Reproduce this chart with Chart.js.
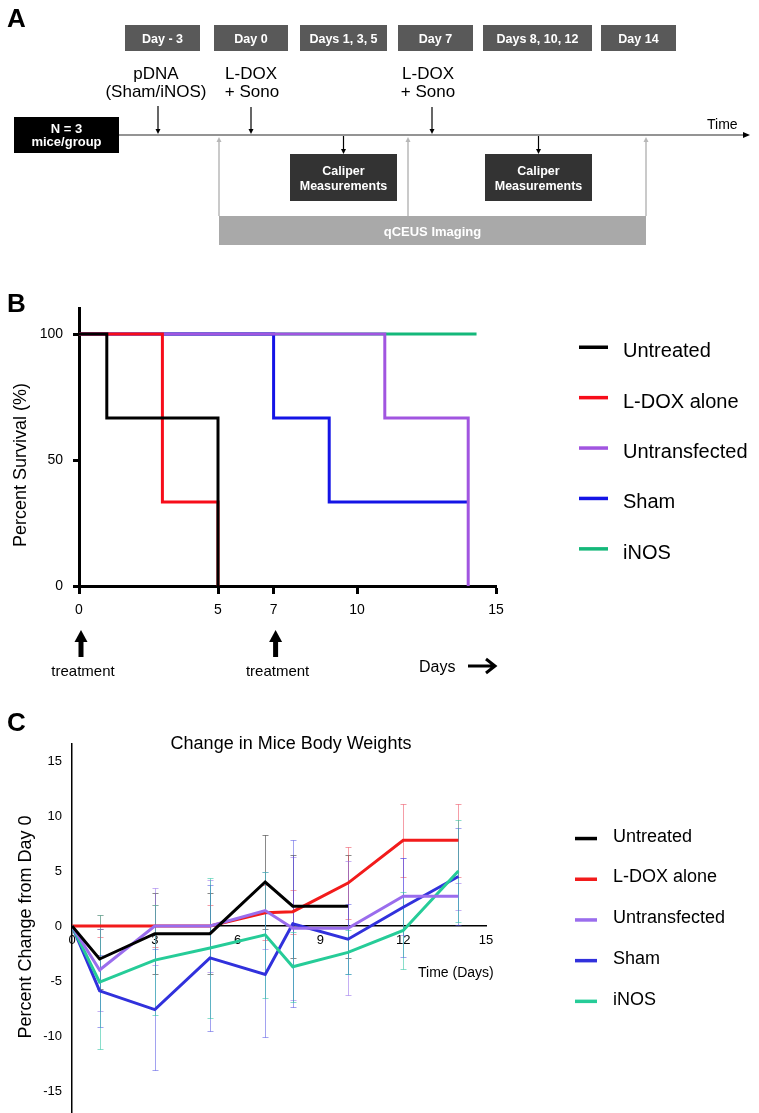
<!DOCTYPE html>
<html>
<head>
<meta charset="utf-8">
<script src="https://cdn.jsdelivr.net/npm/chart.js@4.4.0/dist/chart.umd.min.js"></script>
<style>
  html, body { margin: 0; padding: 0; background: #fff; }
  body { width: 759px; height: 1113px; position: relative; overflow: hidden; font-family: Arial, "Liberation Sans", sans-serif; }
  canvas { position: absolute; }
  #chartB { left: 0; top: 290px; }
  #chartC { left: 0; top: 690px; }
  #overlay { position: absolute; left: 0; top: 0; pointer-events: none; }
</style>
</head>
<body>
<canvas id="chartB" width="520" height="400"></canvas>
<canvas id="chartC" width="540" height="423"></canvas>
<svg id="overlay" width="759" height="1113" xmlns="http://www.w3.org/2000/svg"></svg>
<script>
// groups, same in B and C
const groups = ['Untreated', 'L-DOX alone', 'Untransfected', 'Sham', 'iNOS'];

// B - survival (days, percent)
const survDaysUntreated = [0, 1, 5];
const survPctUntreated = [100, 66.7, 0];
const survDaysLdox = [0, 3, 5];
const survPctLdox = [100, 33.3, 0];
const survDaysUntransf = [0, 11, 14];
const survPctUntransf = [100, 66.7, 0];
const survDaysSham = [0, 7, 9, 14];
const survPctSham = [100, 66.7, 33.3, 33.3];
const survDaysInos = [0.1, 14.3];
const survPctInos = [100, 100];
const survXTicks = [0, 5, 7, 10, 15];
const survYTicks = [0, 50, 100];
const treatmentDays = [0, 7];

// C - body weight change (%), mean and error
const weightDays = [0, 1, 3, 5, 7, 8, 10, 12, 14];
const wUntreated = [0, -3.0, -0.7, -0.7, 4.0, 1.8, 1.8];
const eUntreated = [0, 2.7, 3.7, 3.7, 4.3, 4.7, 4.7];
const wLdox = [0, 0, 0, 0, 1.2, 1.3, 3.9, 7.8, 7.8];
const eLdox = [0, 1.0, 1.9, 1.9, 2.5, 2.0, 3.3, 3.3, 3.3];
const wUntransf = [0, -4.0, 0, 0, 1.4, -0.2, -0.2, 2.7, 2.7];
const eUntransf = [0, 3.7, 3.5, 4.2, 3.5, 6.5, 6.1, 3.5, 1.2];
const wSham = [0, -5.9, -7.6, -2.9, -4.4, 0.2, -1.2, 1.7, 4.5];
const eSham = [0, 3.3, 5.5, 6.6, 5.7, 7.6, 3.2, 4.5, 4.4];
const wInos = [0, -5.1, -3.1, -2.0, -0.8, -3.7, -2.4, -0.4, 5.0];
const eInos = [0, 6.1, 5.0, 6.4, 5.7, 3.2, 2.0, 3.5, 4.6];
const weightXTicks = [0, 3, 6, 9, 12, 15];
const weightYTicks = [-15, -10, -5, 0, 5, 10, 15];

const survColors = ['#000000', '#f70d1a', '#a155e0', '#1414e6', '#14b87a'];
const weightColors = ['#000000', '#f21b1b', '#9a6ded', '#3131dc', '#26cc98'];
const errColors = ['rgba(40,40,40,0.55)', 'rgba(235,60,80,0.5)', 'rgba(150,110,235,0.55)', 'rgba(70,70,225,0.5)', 'rgba(40,195,160,0.55)'];

const FONT = 'Arial, "Liberation Sans", sans-serif';
Chart.defaults.font.family = FONT;
Chart.defaults.color = '#000';

// arrows + "treatment" under panel B
const treatmentArrows = {
  id: 'treatmentArrows',
  afterDraw(chart) {
    const { ctx, scales: { x }, chartArea } = chart;
    ctx.save();
    ctx.fillStyle = '#000';
    ctx.strokeStyle = '#000';
    ctx.font = '15px ' + FONT;
    ctx.textAlign = 'center';
    treatmentDays.forEach(d => {
      const px = x.getPixelForValue(d) + 2;
      ctx.beginPath();
      ctx.moveTo(px, 340);
      ctx.lineTo(px + 6.5, 352);
      ctx.lineTo(px - 6.5, 352);
      ctx.closePath();
      ctx.fill();
      ctx.fillRect(px - 2.5, 351, 5, 16);
      ctx.fillText('treatment', px + 2, 386);
    });
    ctx.font = '16px ' + FONT;
    ctx.textAlign = 'left';
    ctx.fillText('Days', chartArea.right - 77, 382);
    const ay = 376, ax1 = chartArea.right - 28, ax2 = chartArea.right - 1;
    ctx.lineWidth = 3;
    ctx.beginPath();
    ctx.moveTo(ax1, ay); ctx.lineTo(ax2, ay);
    ctx.moveTo(ax2 - 9, ay - 7); ctx.lineTo(ax2, ay); ctx.lineTo(ax2 - 9, ay + 7);
    ctx.stroke();
    ctx.restore();
  }
};

const errorBars = {
  id: 'errorBars',
  beforeDatasetsDraw(chart) {
    const { ctx, scales: { x, y } } = chart;
    ctx.save();
    ctx.lineWidth = 1;
    chart.data.datasets.forEach(ds => {
      ctx.strokeStyle = ds.errorColor;
      ds.data.forEach((p, j) => {
        const e = ds.errors[j];
        if (!e) return;
        const px = Math.round(x.getPixelForValue(p.x)) + 0.5;
        const top = Math.round(y.getPixelForValue(p.y + e)) + 0.5;
        const bot = Math.round(y.getPixelForValue(p.y - e)) + 0.5;
        ctx.beginPath();
        ctx.moveTo(px, top); ctx.lineTo(px, bot);
        ctx.moveTo(px - 3, top); ctx.lineTo(px + 3, top);
        ctx.moveTo(px - 3, bot); ctx.lineTo(px + 3, bot);
        ctx.stroke();
      });
    });
    ctx.restore();
  }
};

const survDays = [survDaysUntreated, survDaysLdox, survDaysUntransf, survDaysSham, survDaysInos];
const survPct = [survPctUntreated, survPctLdox, survPctUntransf, survPctSham, survPctInos];

new Chart(document.getElementById('chartB'), {
  type: 'line',
  data: {
    datasets: groups.map((g, i) => ({
      label: g,
      data: survDays[i].map((d, j) => ({ x: d, y: survPct[i][j] })),
      borderColor: survColors[i],
      borderWidth: 3,
      stepped: 'before',
      pointRadius: 0,
      fill: false
    }))
  },
  options: {
    responsive: false,
    animation: false,
    layout: { padding: { top: 18.8, right: 24, left: 0, bottom: 0 } },
    plugins: { legend: { display: false }, tooltip: { enabled: false } },
    scales: {
      x: {
        type: 'linear', min: 0, max: 15,
        afterBuildTicks: s => { s.ticks = survXTicks.map(v => ({ value: v })); },
        afterFit: s => { s.height = 104; s.paddingLeft = 0; s.paddingRight = 0; },
        border: { color: '#000', width: 3 },
        grid: { drawOnChartArea: false, color: '#000', tickColor: '#000', tickLength: 8, tickWidth: 3 },
        ticks: { color: '#000', font: { size: 14 }, padding: 8, maxRotation: 0, autoSkip: false }
      },
      y: {
        min: 0, max: 110,
        afterBuildTicks: s => { s.ticks = survYTicks.map(v => ({ value: v })); },
        afterFit: s => { s.width = 79; s.paddingTop = 0; s.paddingBottom = 0; },
        border: { color: '#000', width: 3 },
        grid: { drawOnChartArea: false, color: '#000', tickColor: '#000', tickLength: 6, tickWidth: 3 },
        ticks: { color: '#000', font: { size: 14 }, padding: 10 }
      }
    }
  },
  plugins: [treatmentArrows]
});

const wMeans = [wUntreated, wLdox, wUntransf, wSham, wInos];
const wErrs = [eUntreated, eLdox, eUntransf, eSham, eInos];
const drawOrder = [0, 3, 1, 4, 2];

new Chart(document.getElementById('chartC'), {
  type: 'line',
  data: {
    datasets: groups.map((g, i) => ({
      label: g,
      data: wMeans[i].map((v, j) => ({ x: weightDays[j], y: v })),
      errors: wErrs[i],
      errorColor: errColors[i],
      borderColor: weightColors[i],
      borderWidth: 3,
      tension: 0,
      pointRadius: 0,
      fill: false,
      order: drawOrder[i]
    }))
  },
  options: {
    responsive: false,
    animation: false,
    layout: { padding: { top: 53.4, right: 54, left: 0, bottom: 0 } },
    plugins: { legend: { display: false }, tooltip: { enabled: false } },
    scales: {
      x: {
        type: 'linear', min: 0, max: 15, position: { y: 0 },
        afterBuildTicks: s => { s.ticks = weightXTicks.map(v => ({ value: v })); },
        afterFit: s => { s.paddingLeft = 0; s.paddingRight = 0; },
        border: { color: '#000', width: 1.5 },
        grid: { display: false, drawTicks: false },
        ticks: { color: '#000', font: { size: 13 }, padding: 7, maxRotation: 0, autoSkip: false }
      },
      y: {
        min: -17, max: 16.6,
        afterBuildTicks: s => { s.ticks = weightYTicks.map(v => ({ value: v })); },
        afterFit: s => { s.width = 72; s.paddingTop = 0; s.paddingBottom = 0; },
        border: { color: '#000', width: 1.5 },
        grid: { display: false, drawTicks: false },
        ticks: { color: '#000', font: { size: 13 }, padding: 10 }
      }
    }
  },
  plugins: [errorBars]
});

// ---- overlay: panel A diagram, titles, legends ----
const NS = 'http://www.w3.org/2000/svg';
const svg = document.getElementById('overlay');
function add(tag, attrs, text) {
  const el = document.createElementNS(NS, tag);
  for (const k in attrs) el.setAttribute(k, attrs[k]);
  if (text != null) el.textContent = text;
  svg.appendChild(el);
  return el;
}
function text(x, y, s, size, opts = {}) {
  return add('text', Object.assign({ x: x, y: y, 'font-size': size, 'font-family': FONT, fill: '#000' }, opts), s);
}
function downArrow(x, y1, y2, color) {
  add('line', { x1: x, y1: y1, x2: x, y2: y2 - 4, stroke: color, 'stroke-width': 1.2 });
  add('polygon', { points: `${x - 2.5},${y2 - 5} ${x + 2.5},${y2 - 5} ${x},${y2}`, fill: color });
}
function upArrow(x, y1, y2, color) {
  add('line', { x1: x, y1: y1, x2: x, y2: y2 + 4, stroke: color, 'stroke-width': 1.5 });
  add('polygon', { points: `${x - 2.5},${y2 + 5} ${x + 2.5},${y2 + 5} ${x},${y2}`, fill: color });
}

// panel letters
text(7, 26.7, 'A', 26, { 'font-weight': 'bold' });
text(7, 312, 'B', 26, { 'font-weight': 'bold' });
text(7, 731, 'C', 26, { 'font-weight': 'bold' });

// A: header boxes
const stepLabels = ['Day - 3', 'Day 0', 'Days 1, 3, 5', 'Day 7', 'Days 8, 10, 12', 'Day 14'];
const stepBoxes = [[125, 75], [214, 74], [300, 87], [398, 75], [483, 109], [601, 75]];
stepLabels.forEach((s, i) => {
  const [x, w] = stepBoxes[i];
  add('rect', { x: x, y: 25, width: w, height: 26, fill: '#595959' });
  text(x + w / 2, 42.5, s, 12.5, { 'font-weight': 'bold', fill: '#fff', 'text-anchor': 'middle' });
});

// A: treatment notes
text(156, 79, 'pDNA', 17, { 'text-anchor': 'middle' });
text(156, 97, '(Sham/iNOS)', 17, { 'text-anchor': 'middle' });
text(251, 79, 'L-DOX', 17, { 'text-anchor': 'middle' });
text(252, 97, '+ Sono', 17, { 'text-anchor': 'middle' });
text(428, 79, 'L-DOX', 17, { 'text-anchor': 'middle' });
text(428, 97, '+ Sono', 17, { 'text-anchor': 'middle' });
downArrow(158, 106, 134, '#000');
downArrow(251, 107, 134, '#000');
downArrow(432, 107, 134, '#000');

// A: time line
add('line', { x1: 119, y1: 135, x2: 746, y2: 135, stroke: '#707070', 'stroke-width': 1.5 });
add('polygon', { points: '743,132 743,138 750,135', fill: '#000' });
text(707, 129, 'Time', 14);

// A: group box
add('rect', { x: 14, y: 117, width: 105, height: 36, fill: '#000' });
text(66.5, 132.5, 'N = 3', 13, { 'font-weight': 'bold', fill: '#fff', 'text-anchor': 'middle' });
text(66.5, 146, 'mice/group', 13, { 'font-weight': 'bold', fill: '#fff', 'text-anchor': 'middle' });

// A: caliper boxes
[290, 485].forEach(x => {
  downArrow(x + 53.5, 136, 154, '#000');
  add('rect', { x: x, y: 154, width: 107, height: 47, fill: '#333333' });
  text(x + 53.5, 175, 'Caliper', 12.5, { 'font-weight': 'bold', fill: '#fff', 'text-anchor': 'middle' });
  text(x + 53.5, 190, 'Measurements', 12.5, { 'font-weight': 'bold', fill: '#fff', 'text-anchor': 'middle' });
});

// A: imaging bar
[219, 408, 646].forEach(x => upArrow(x, 216, 137, '#b8b8b8'));
add('rect', { x: 219, y: 216, width: 427, height: 29, fill: '#a9a9a9' });
text(432.5, 235.5, 'qCEUS Imaging', 13, { 'font-weight': 'bold', fill: '#fff', 'text-anchor': 'middle' });

// B: axis title + legend
text(0, 0, 'Percent Survival (%)', 18, { 'text-anchor': 'middle', transform: 'translate(26,465) rotate(-90)' });
groups.forEach((g, i) => {
  const cy = 347 + i * 50.4;
  add('rect', { x: 579, y: cy - 1.5, width: 29, height: 3.5, fill: survColors[i] });
  text(623, cy + 3 + 0.358 * 20, g, 20);
});

// C: titles + legend
text(291, 749.3, 'Change in Mice Body Weights', 18, { 'text-anchor': 'middle' });
text(0, 0, 'Percent Change from Day 0', 18, { 'text-anchor': 'middle', transform: 'translate(31,927) rotate(-90)' });
text(418, 976.7, 'Time (Days)', 14);
groups.forEach((g, i) => {
  const cy = 838.3 + i * 40.7;
  add('rect', { x: 575, y: cy - 1.5, width: 22, height: 3.5, fill: weightColors[i] });
  text(613, cy - 3 + 0.358 * 18, g, 18);
});
</script>
</body>
</html>
